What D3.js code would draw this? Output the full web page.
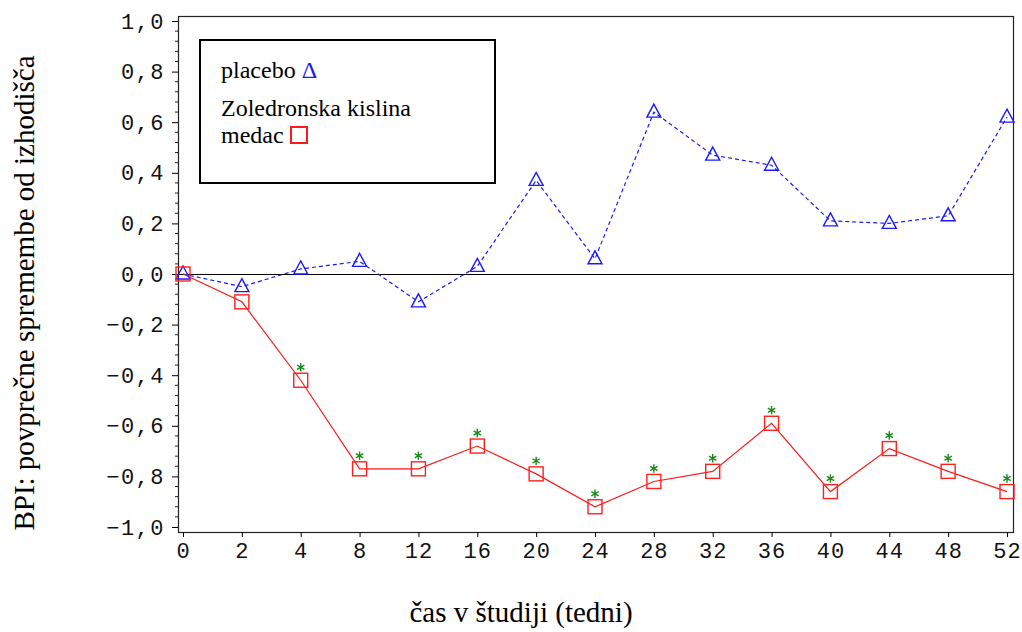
<!DOCTYPE html>
<html>
<head>
<meta charset="utf-8">
<script src="https://cdn.jsdelivr.net/npm/d3@7"></script>
<style>
body { margin:0; background:#fff; }
svg { display:block; }
</style>
</head>
<body>
<div id="chart"></div>
<script>
// Weeks on x axis (categorical, equal spacing)
const weeks = [0, 2, 4, 8, 12, 16, 20, 24, 28, 32, 36, 40, 44, 48, 52];

// Mean change from baseline
const placebo = [0.00, -0.05, 0.02, 0.05, -0.11, 0.03, 0.37, 0.06, 0.64, 0.47, 0.43, 0.21, 0.20, 0.23, 0.62];
const zoledronic = [0.00, -0.11, -0.42, -0.77, -0.77, -0.68, -0.79, -0.92, -0.82, -0.78, -0.59, -0.86, -0.69, -0.78, -0.86];

// significance flag (green asterisk)
const signif = [false, false, true, true, true, true, true, true, true, true, true, true, true, true, true];

const yTicks = [-1.0, -0.8, -0.6, -0.4, -0.2, 0.0, 0.2, 0.4, 0.6, 0.8, 1.0];

const W = 1022, H = 632;
const frame = {left:178, right:1013, top:16, bottom:532};

const svg = d3.select("#chart").append("svg")
  .attr("width", W)
  .attr("height", H);

const x = d3.scalePoint()
  .domain(weeks)
  .range([183, 1007]);

const y = d3.scaleLinear()
  .domain([-1, 1])
  .range([527, 21]);

const loc = d3.formatLocale({decimal:",", thousands:".", grouping:[3], currency:["",""], minus:"\u2212"});
const fmt = loc.format(".1f");

// frame
svg.append("rect")
  .attr("x", frame.left + 0.5)
  .attr("y", frame.top + 0.5)
  .attr("width", frame.right - frame.left)
  .attr("height", frame.bottom - frame.top)
  .attr("fill", "none")
  .attr("stroke", "#222")
  .attr("stroke-width", 1.2);

// Y axis
const yAxis = svg.append("g")
  .attr("transform", `translate(${frame.left},0)`)
  .call(d3.axisLeft(y).tickValues(yTicks).tickFormat(fmt).tickSize(6).tickPadding(7));
yAxis.select(".domain").remove();
yAxis.selectAll("text")
  .style("font-family", "'Liberation Mono', monospace")
  .style("font-size", "22px")
  .style("letter-spacing", "1.5px")
  .attr("fill", "#111");

// minor y ticks
const minor = d3.range(-1, 1.0001, 0.04).filter(v => Math.abs(Math.round(v * 5) - v * 5) > 1e-6);
svg.append("g")
  .selectAll("line")
  .data(minor)
  .enter()
  .append("line")
  .attr("x1", frame.left - 3)
  .attr("x2", frame.left)
  .attr("y1", d => y(d))
  .attr("y2", d => y(d))
  .attr("stroke", "#222");

// X axis
const xAxis = svg.append("g")
  .attr("transform", `translate(0,${frame.bottom})`)
  .call(d3.axisBottom(x).tickSize(5).tickPadding(5));
xAxis.select(".domain").remove();
xAxis.selectAll("text")
  .style("font-family", "'Liberation Mono', monospace")
  .style("font-size", "22px")
  .style("letter-spacing", "1px")
  .attr("fill", "#111");

// zero line
svg.append("line")
  .attr("x1", frame.left)
  .attr("x2", frame.right)
  .attr("y1", y(0) + 0.5)
  .attr("y2", y(0) + 0.5)
  .attr("stroke", "#000")
  .attr("stroke-width", 1);

// placebo line
const line = d3.line()
  .x((d, i) => x(weeks[i]))
  .y(d => y(d));

svg.append("path")
  .datum(placebo)
  .attr("d", line)
  .attr("fill", "none")
  .attr("stroke", "#1a1aff")
  .attr("stroke-width", 1.2)
  .attr("stroke-dasharray", "4,3");

svg.append("path")
  .datum(zoledronic)
  .attr("d", line)
  .attr("fill", "none")
  .attr("stroke", "#ff1a1a")
  .attr("stroke-width", 1.2);

// triangles
svg.selectAll(".tri")
  .data(placebo)
  .enter()
  .append("path")
  .attr("class", "tri")
  .attr("d", (d, i) => {
    const cx = x(weeks[i]), cy = y(d);
    return `M${cx},${cy - 8}L${cx + 7},${cy + 5}L${cx - 7},${cy + 5}Z`;
  })
  .attr("fill", "none")
  .attr("stroke", "#1a1aff")
  .attr("stroke-width", 1.4);

// squares
svg.selectAll(".sq")
  .data(zoledronic)
  .enter()
  .append("rect")
  .attr("class", "sq")
  .attr("x", (d, i) => x(weeks[i]) - 7)
  .attr("y", d => y(d) - 7)
  .attr("width", 14)
  .attr("height", 14)
  .attr("fill", "none")
  .attr("stroke", "#ff2020")
  .attr("stroke-width", 1.4);

// asterisks
const star = d3.symbol().type(d3.symbolAsterisk).size(50);
svg.selectAll(".ast")
  .data(zoledronic.map((v, i) => ({v, i})).filter(d => signif[d.i]))
  .enter()
  .append("path")
  .attr("class", "ast")
  .attr("d", star)
  .attr("transform", d => `translate(${x(weeks[d.i])},${y(d.v) - 13})`)
  .attr("fill", "none")
  .attr("stroke", "#1a8a1a")
  .attr("stroke-width", 1.4);

// legend
const lg = svg.append("g");
lg.append("rect")
  .attr("x", 200)
  .attr("y", 40)
  .attr("width", 295)
  .attr("height", 143)
  .attr("fill", "#fff")
  .attr("stroke", "#000")
  .attr("stroke-width", 2);

const serif = "'Liberation Serif', 'Times New Roman', serif";
const t1 = lg.append("text")
  .attr("x", 221)
  .attr("y", 78)
  .style("font-family", serif)
  .style("font-size", "24px")
  .text("placebo ");
t1.append("tspan")
  .attr("fill", "#1a1aff")
  .text("\u0394");

lg.append("text")
  .attr("x", 221)
  .attr("y", 116)
  .style("font-family", serif)
  .style("font-size", "24px")
  .text("Zoledronska kislina");

lg.append("text")
  .attr("x", 221)
  .attr("y", 143)
  .style("font-family", serif)
  .style("font-size", "24px")
  .text("medac");

lg.append("rect")
  .attr("x", 291)
  .attr("y", 127)
  .attr("width", 16)
  .attr("height", 16)
  .attr("fill", "none")
  .attr("stroke", "#ff1a1a")
  .attr("stroke-width", 2);

// axis titles
svg.append("text")
  .attr("transform", "translate(34,293) rotate(-90)")
  .attr("text-anchor", "middle")
  .style("font-family", serif)
  .style("font-size", "29px")
  .text("BPI: povprečne spremembe od izhodišča");

svg.append("text")
  .attr("x", 521)
  .attr("y", 622)
  .attr("text-anchor", "middle")
  .style("font-family", serif)
  .style("font-size", "29px")
  .text("čas v študiji (tedni)");
</script>
</body>
</html>
